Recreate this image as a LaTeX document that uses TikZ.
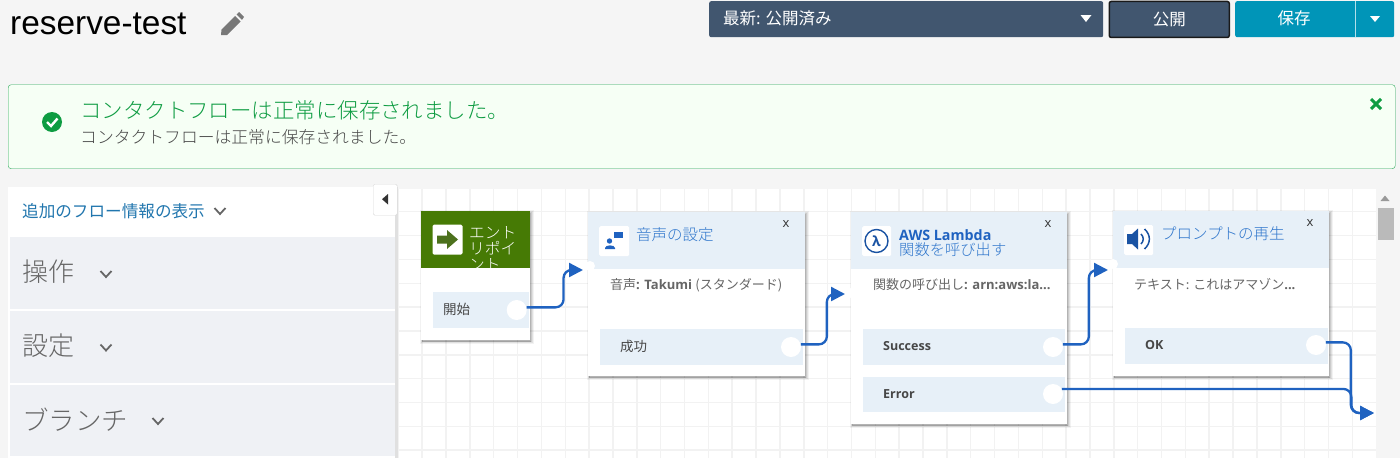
\documentclass[tikz,border=0pt]{standalone}
\usepackage{fontspec}
\usetikzlibrary{arrows.meta}
\setmainfont{Open Sans}
\newfontfamily\jp{Noto Sans CJK JP}
\newfontfamily\jplight{Noto Sans CJK JP Light}
\newfontfamily\titlefont{Liberation Sans}
\newcommand{\jpsize}[1]{\jp\fontsize{#1}{#1}\selectfont}
\newcommand{\lightsize}[1]{\jplight\fontsize{#1}{#1}\selectfont}
\newcommand{\ensize}[1]{\fontsize{#1}{#1}\selectfont}
\definecolor{pagebg}{HTML}{F5F5F5}
\definecolor{navybtn}{HTML}{41566F}
\definecolor{tealbtn}{HTML}{0095B8}
\definecolor{okgreen}{HTML}{0E9C42}
\definecolor{okfill}{HTML}{F6FFF5}
\definecolor{panelgray}{HTML}{EFF1F5}
\definecolor{gridline}{HTML}{F2F2F2}
\definecolor{headblue}{HTML}{E7F0F8}
\definecolor{flowblue}{HTML}{1F62C0}
\definecolor{titleblue}{HTML}{2F76CC}
\definecolor{linkblue}{HTML}{2176AE}
\definecolor{entrygreen}{HTML}{467A05}
\tikzset{
    label/.style={anchor=west, inner sep=0pt, text=#1},
    label/.default=black!72,
    centerlabel/.style={anchor=center, inner sep=0pt, text=#1},
    block/.style={anchor=north west, inner sep=0pt, fill=#1},
    softshadow/.style={
        preaction={draw=black, fill=black, opacity=.05, line width=5pt, transform canvas={xshift=1pt, yshift=-1.5pt}},
        preaction={draw=black, fill=black, opacity=.07, line width=3pt, transform canvas={xshift=1pt, yshift=-1.5pt}},
        preaction={draw=black, fill=black, opacity=.09, line width=1pt, transform canvas={xshift=1pt, yshift=-1.5pt}}},
    cardbox/.style={block=white, softshadow},
    outport/.style={circle, fill=white, inner sep=0pt, minimum size=20pt},
    inport/.style={circle, fill=white, inner sep=0pt, minimum size=10pt},
    flowline/.style={draw=flowblue, line width=2.3pt, rounded corners=8pt, -{Triangle[length=14pt,width=14pt]}},
    chevron/.style={draw=black!60, line width=1.8pt},
    iconbox/.style={block=white, rounded corners=1.5pt, minimum width=30pt, minimum height=30pt}
}
\begin{document}
\begin{tikzpicture}[x=1pt, y=-1pt]
    \useasboundingbox (0, 0) rectangle (1400, 458);
    \fill [pagebg] (0, 0) rectangle (1400, 458);

    \node [label=black, font=\titlefont\ensize{33.4}] (flowname) at (10, 24) {reserve-test};
    \fill [black!53] (221, 35) -- (221.5, 29.5) -- (235, 16) -- (240.5, 21.5) -- (227, 35) -- cycle;
    \fill [black!53] (236.5, 14.5) -- (239, 12) -- (244, 17) -- (242, 19.8) -- cycle;

    \node [block=navybtn, rounded corners=2pt, minimum width=394pt, minimum height=36pt] (versionbtn) at (709, 1) {};
    \node [label=white, font=\jpsize{16.5}] (versiontext) at (723, 18) {最新: 公開済み};
    \fill [white] (1080.5, 15) -- (1091.5, 15) -- (1086, 22) -- cycle;
    \node [block=navybtn, draw=black!90, line width=1.5pt, rounded corners=2pt, minimum width=120pt, minimum height=36pt] (publishbtn) at (1108.5, 0.7) {};
    \node [centerlabel=white, font=\jpsize{16.5}] (publishtext) at (publishbtn.center) {公開};
    \node [block=tealbtn, rounded corners=2pt, minimum width=159pt, minimum height=36pt] (savebtn) at (1235, 1) {};
    \draw [white!70!tealbtn] (1355, 1) -- (1355, 37);
    \node [centerlabel=white, font=\jpsize{16.5}] (savetext) at (1294, 18) {保存};
    \fill [white] (1370, 16) -- (1380, 16) -- (1375, 22) -- cycle;

    \node [block=okfill, draw=okgreen!90!white, rounded corners=3pt, minimum width=1387pt, minimum height=84pt] (banner) at (8, 84.5) {};
    \fill [okgreen] (52, 122) circle (10);
    \draw [white, line width=2.4pt] (47, 122) -- (51, 126) -- (57.5, 118.5);
    \node [label=okgreen, font=\lightsize{21.45}] (bannertitle) at (80, 110) {コンタクトフローは正常に保存されました。};
    \node [label=black!72, font=\lightsize{16.8}] (bannertext) at (80, 137) {コンタクトフローは正常に保存されました。};
    \draw [okgreen, line width=3pt] (1371, 99) -- (1381, 109);
    \draw [okgreen, line width=3pt] (1381, 99) -- (1371, 109);

    \fill [white] (8, 187) rectangle (395, 458);
    \fill [black!12] (395, 187) rectangle (398, 458);
    \node [label=linkblue, font=\jpsize{16.6}] (moreinfo) at (22, 211) {追加のフロー情報の表示};
    \draw [chevron] (214.5, 208) -- (220, 214) -- (225.5, 208);
    \node [block=panelgray, minimum width=385pt, minimum height=72pt] (panelops) at (10, 237) {};
    \node [block=panelgray, minimum width=385pt, minimum height=72pt] (panelset) at (10, 311) {};
    \node [block=panelgray, minimum width=385pt, minimum height=71pt] (panelbranch) at (10, 385) {};
    \node [label=black!60, font=\lightsize{26}] (opstext) at (22, 272) {操作};
    \draw [chevron] (100.5, 271) -- (106, 277) -- (111.5, 271);
    \node [label=black!60, font=\lightsize{26}] (settext) at (22, 346) {設定};
    \draw [chevron] (100.5, 344.5) -- (106, 350.5) -- (111.5, 344.5);
    \node [label=black!60, font=\lightsize{26.5}] (branchtext) at (22, 420) {ブランチ};
    \draw [chevron] (152.5, 418) -- (158, 424) -- (163.5, 418);

    \fill [white] (398, 189) rectangle (1376, 458);
    \foreach \gx in {0, ..., 40}
        \draw [gridline, line width=1.5pt] (398.3 + 23.85 * \gx, 189) -- (398.3 + 23.85 * \gx, 458);
    \foreach \gy in {0, ..., 10}
        \draw [gridline, line width=1.5pt] (398, 211.7 + 23.85 * \gy) -- (1376, 211.7 + 23.85 * \gy);
    \fill [pagebg] (1376, 189) rectangle (1400, 458);
    \fill [black!27] (1377.5, 208) rectangle (1393.5, 240);
    \fill [black!40] (1380.5, 201) -- (1389.5, 201) -- (1385, 195.5) -- cycle;
    \node [block=white, draw=black!15, rounded corners=1.5pt, minimum width=24pt, minimum height=31pt] (collapsebtn) at (373, 184) {};
    \fill [black!80] (388, 194) -- (388, 204.5) -- (382, 199.2) -- cycle;

    \node [cardbox, minimum width=109pt, minimum height=129pt] (entrycard) at (421, 211) {};
    \node [block=entrygreen, minimum width=109pt, minimum height=57pt] (entryhead) at (421, 211) {};
    \node [iconbox, minimum width=30pt] (entryicon) at (432.3, 224.5) {};
    \fill [entrygreen!80!black!90!white] (437, 235.5) -- (447, 235.5) -- (447, 230) -- (458, 239.5) -- (447, 249) -- (447, 243.5) -- (437, 243.5) -- cycle;
    \begin{scope}
        \clip (421, 211) rectangle (530, 268);
        \node [label=white, font=\lightsize{15.7}] (entryline) at (469, 233) {エント};
        \node [label=white, font=\lightsize{15.7}] (pointline) at (469, 248) {リポイ};
        \node [label=white, font=\lightsize{15.7}] (endline) at (469, 265) {ント};
    \end{scope}
    \node [block=headblue, minimum width=96pt, minimum height=36pt] (startstrip) at (433, 292) {};
    \node [label, font=\jpsize{13.5}] (starttext) at (443, 309.5) {開始};
    \node [outport] (startport) at (516.7, 310) {};

    \node [cardbox, minimum width=217pt, minimum height=164pt] (voicecard) at (588, 212) {};
    \node [block=headblue, minimum width=217pt, minimum height=57pt] (voicehead) at (588, 212) {};
    \node [iconbox] (voiceicon) at (599, 226) {};
    \fill [flowblue] (609.5, 241) circle (2.7);
    \fill [flowblue] (605, 249) -- (605, 248) .. controls (605, 244.5) and (615, 244.5) .. (615, 248) -- (615, 249) -- cycle;
    \fill [flowblue] (614, 232) rectangle (623, 238);
    \node [label=titleblue, font=\lightsize{15.5}] (voicetitle) at (636, 235) {音声の設定};
    \node [centerlabel=black!80, font=\ensize{13}] (voiceclose) at (786, 224.5) {x};
    \node [label=black!60, font=\ensize{13}] (voicebody) at (610, 285) {{\jpsize{13}音声}\textbf{: Takumi} {\jpsize{13}(スタンダード)}};
    \node [block=headblue, minimum width=203pt, minimum height=36pt] (voicestrip) at (600, 329) {};
    \node [label, font=\jpsize{13.5}] (voicetext) at (620, 346) {成功};
    \node [outport] (voiceport) at (791, 347) {};
    \node [inport] (voicedot) at (590, 266) {};

    \node [cardbox, minimum width=216pt, minimum height=212pt] (lambdacard) at (851, 212) {};
    \node [block=headblue, minimum width=216pt, minimum height=57pt] (lambdahead) at (851, 212) {};
    \node [iconbox, minimum width=29pt] (lambdaicon) at (862, 226) {};
    \draw [flowblue!85!black, line width=1.4pt] (876.5, 241) circle (11.5);
    \node [centerlabel=flowblue!85!black, font=\bfseries\ensize{14}] (lambdaglyph) at (876.5, 241) {λ};
    \node [label=flowblue, font=\bfseries\ensize{14.3}] (lambdatitle) at (899, 235) {AWS Lambda};
    \node [label=titleblue, font=\lightsize{15.3}] (lambdasub) at (899, 250) {関数を呼び出す};
    \node [centerlabel=black!80, font=\ensize{13}] (lambdaclose) at (1048, 224.5) {x};
    \node [label=black!60, font=\ensize{13}] (lambdabody) at (873, 285) {{\jpsize{13}関数の呼び出し}\textbf{: arn:aws:la...}};
    \node [block=headblue, minimum width=202.5pt, minimum height=36pt] (successstrip) at (862.5, 329) {};
    \node [label, font=\bfseries\ensize{12.5}] (successtext) at (883, 346) {Success};
    \node [outport] (successport) at (1053, 347) {};
    \node [block=headblue, minimum width=202.5pt, minimum height=35pt] (errorstrip) at (862.5, 377) {};
    \node [label, font=\bfseries\ensize{12.5}] (errortext) at (883, 394) {Error};
    \node [outport] (errorport) at (1053, 394) {};
    \node [inport] (lambdadot) at (851, 293) {};

    \node [cardbox, minimum width=216pt, minimum height=165pt] (promptcard) at (1113, 211) {};
    \node [block=headblue, minimum width=216pt, minimum height=57pt] (prompthead) at (1113, 211) {};
    \node [iconbox, minimum width=29pt] (prompticon) at (1124, 225) {};
    \fill [flowblue!85!black] (1127, 234) -- (1132, 234) -- (1138, 228.5) -- (1138, 249.5) -- (1132, 244) -- (1127, 244) -- cycle;
    \draw [flowblue!85!black, line width=1.5pt] (1141, 234) .. controls (1144, 237) and (1144, 241) .. (1141, 244);
    \draw [flowblue!85!black, line width=1.5pt] (1144.5, 229) .. controls (1151, 235) and (1151, 243) .. (1144.5, 249);
    \node [label=titleblue, font=\lightsize{15.5}] (prompttitle) at (1161, 234) {プロンプトの再生};
    \node [centerlabel=black!80, font=\ensize{13}] (promptclose) at (1310, 223) {x};
    \node [label=black!60, font=\ensize{13}] (promptbody) at (1134, 284) {{\jpsize{13}テキスト: これはアマゾン}\textbf{...}};
    \node [block=headblue, minimum width=203pt, minimum height=36pt] (okstrip) at (1125, 328) {};
    \node [label, font=\bfseries\ensize{12.5}] (oktext) at (1145, 345) {OK};
    \node [outport] (okport) at (1316, 345) {};
    \node [inport] (promptdot) at (1113, 264) {};

    \coordinate (voicein) at (583, 270);
    \coordinate (lambdain) at (845, 294);
    \coordinate (promptin) at (1108, 270);
    \coordinate (nextin) at (1374, 413);
    \draw [flowline] (startport.15) -- ++(37, 0) |- (voicein);
    \draw [flowline] (voiceport.15) -- ++(26, 0) |- (lambdain);
    \draw [flowline] (successport.15) -- ++(26, 0) |- (promptin);
    \draw [flowline] (okport.15) -- ++(25, 0) |- (nextin);
    \draw [flowline] (errorport.30) -- ++(289.5, 0) |- (nextin);
\end{tikzpicture}
\end{document}
